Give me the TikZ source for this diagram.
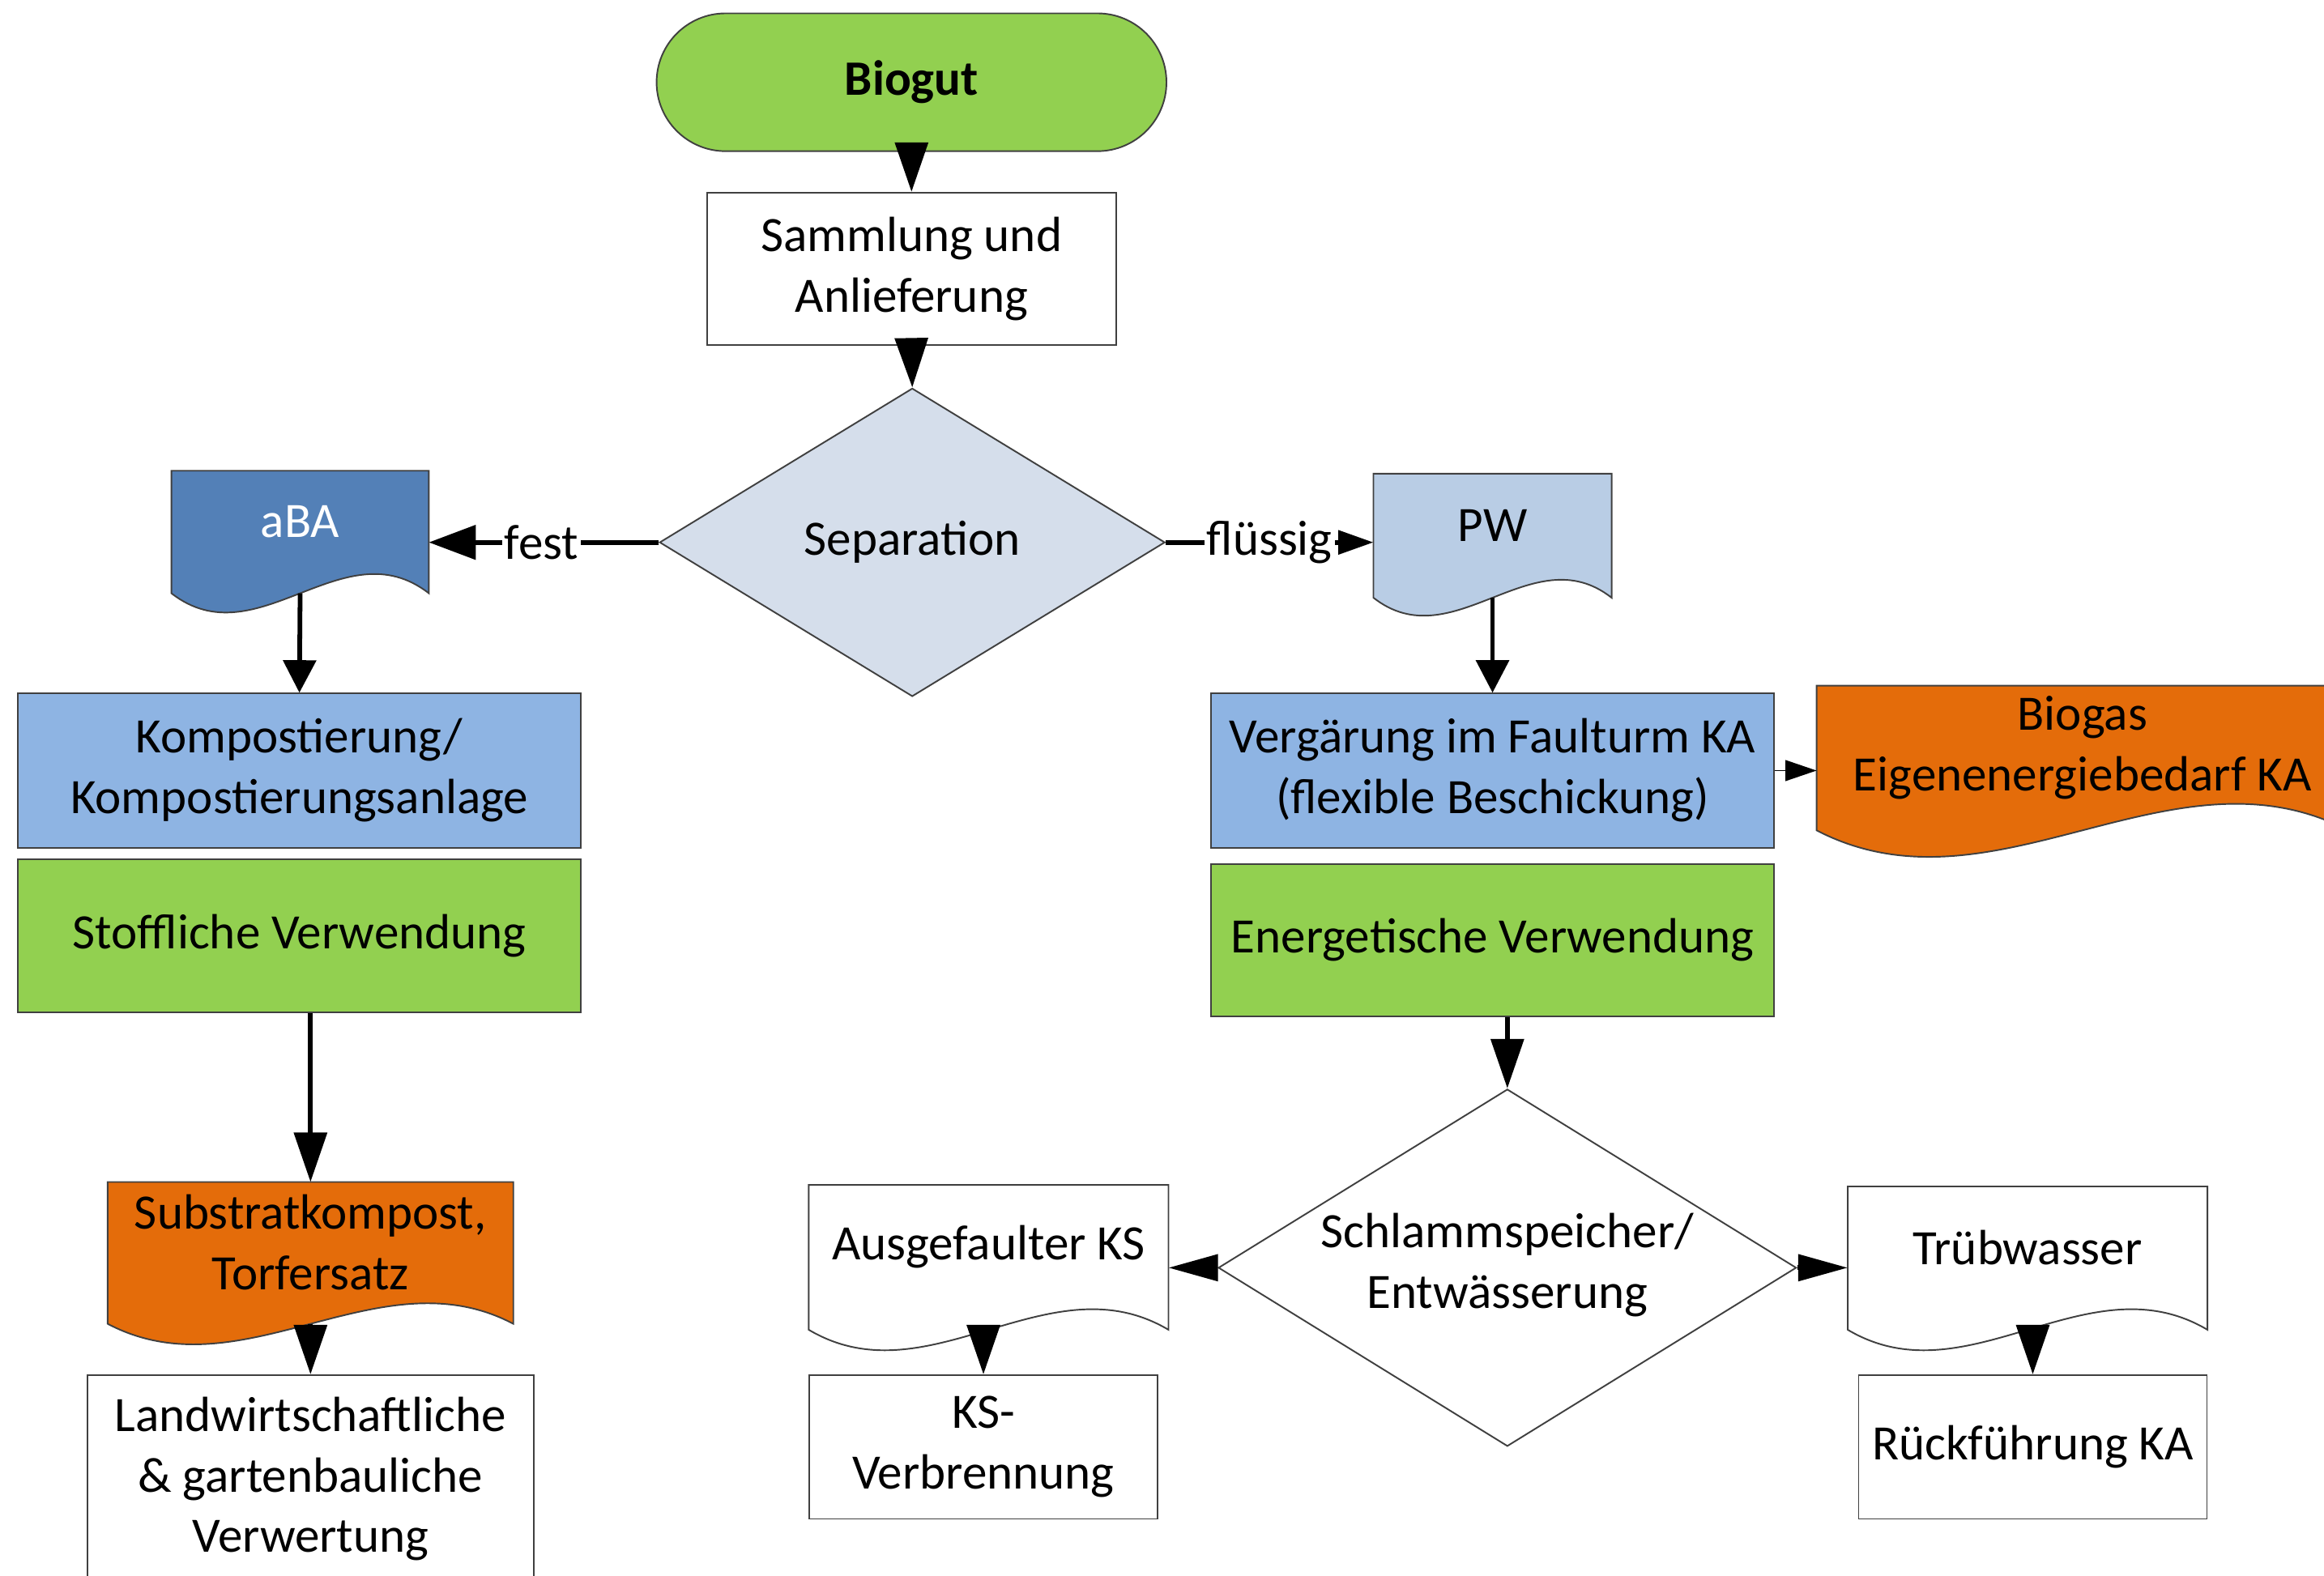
\documentclass[tikz,border=0pt]{standalone}
\usepackage{fontspec}
\setmainfont{Carlito}
\usetikzlibrary{arrows.meta,shapes.geometric,shapes.misc,calc,backgrounds}
\definecolor{gr}{HTML}{92D050}
\definecolor{bl}{HTML}{8EB4E3}
\definecolor{dbl}{HTML}{5380B7}
\definecolor{pbl}{HTML}{B9CDE5}
\definecolor{sepc}{HTML}{D5DEEB}
\definecolor{org}{HTML}{E46C0A}
\definecolor{bd}{HTML}{404040}
\newcommand\U{0.02cm}
\newcommand\fs{\fontsize{19}{23.3}\selectfont}
\tikzset{
  box/.style={draw=bd, line width=0.6pt, inner sep=0pt, align=center, font=\fs},
  docb/.style={inner sep=0pt},
  txt/.style={align=center, font=\fs, inner sep=0pt},
  dia/.style={diamond, draw=bd, line width=0.6pt, inner sep=0pt},
  bdline/.style={draw=bd, line width=0.6pt},
  heavy/.style={line width=1.8pt},
  tipbig/.style={-{Triangle[length=19pt,width=12.5pt]}},
  tipnorm/.style={-{Triangle[length=12.5pt,width=12.5pt]}},
  tipside/.style={-{Triangle[length=19pt,width=10pt]}},
  tipfl/.style={-{Triangle[length=13.5pt,width=9pt]}},
  tipfest/.style={-{Triangle[length=18pt,width=13pt]}},
  tipbg/.style={-{Triangle[length=12pt,width=8pt]}},
  lbl/.style={fill=white, font=\fs, inner sep=1pt}
}
\newcommand\docpath[3]{%
  \begin{scope}[on background layer]
  \draw[bdline, fill=#2] (#1.south west) -- (#1.north west) -- (#1.north east) -- (#1.south east)
   .. controls ($(#1.south west)!0.6667!(#1.south east)+(0,-#3)$) and ($(#1.south west)!0.3333!(#1.south east)+(0,#3)$) .. (#1.south west) -- cycle;
  \end{scope}}
\newcommand\docnode[8]{%
  \node[docb, minimum width=#3*\U, minimum height=#4*\U] (#1) at (#2) {};
  \docpath{#1}{#5}{#6}
  \node[txt, text=#8] (#1-t) at ($(#1)+(0,-7)$) {#7};
}
\begin{document}
\begin{tikzpicture}[x=0.02cm, y=-0.02cm]
\useasboundingbox (0,0) rectangle (1568,1063);

% top
\node[rounded rectangle, box, fill=gr, minimum width=344*\U, minimum height=93*\U, font=\fs\bfseries] (biogut) at (615,55.5) {Biogut};
\node[box, minimum width=276*\U, minimum height=103*\U] (samm) at (615,181.5) {Sammlung und\\Anlieferung};
\node[dia, fill=sepc, minimum width=341*\U, minimum height=208*\U] (sep) at (615.5,366) {};
\node[txt] (sep-t) at (sep) {Separation};

% left branch
\docnode{aba}{202.5,359}{173}{82}{dbl}{45}{aBA}{white}
\node[box, fill=bl, minimum width=380*\U, minimum height=104*\U] (komp) at (202,520) {Kompostierung/\\Kompostierungsanlage};
\node[box, fill=gr, minimum width=380*\U, minimum height=103*\U] (stof) at (202,631.5) {Stoffliche Verwendung};
\docnode{subs}{209.5,845.5}{273}{95}{org}{48}{Substratkompost,\\Torfersatz}{black}
\node[box, minimum width=301*\U, minimum height=140*\U] (landw) at (209.5,998) {Landwirtschaftliche\\\& gartenbauliche\\Verwertung};

% right branch
\docnode{pw}{1007,361.5}{160}{83}{pbl}{42}{PW}{black}
\node[box, fill=bl, minimum width=380*\U, minimum height=104*\U] (verg) at (1007,520) {Vergärung im Faulturm KA\\(flexible Beschickung)};
\node[box, fill=gr, minimum width=380*\U, minimum height=103*\U] (ener) at (1007,634.5) {Energetische Verwendung};
\docnode{biogas}{1405,511.5}{358}{97}{org}{62}{Biogas\\Eigenenergiebedarf KA}{black}
\node[dia, fill=white, minimum width=390*\U, minimum height=241*\U] (schl) at (1017,855.5) {};
\node[txt] (schl-t) at ($(schl)+(0,-2)$) {Schlammspeicher/\\Entwässerung};
\docnode{ausg}{667,848.5}{242}{97}{white}{48}{Ausgefaulter KS}{black}
\node[box, minimum width=235*\U, minimum height=97*\U] (ksv) at (663.5,976.5) {KS-\\Verbrennung};
\docnode{trueb}{1368,849}{242}{96}{white}{48}{Trübwasser}{black}
\node[box, minimum width=235*\U, minimum height=97*\U] (rueck) at (1371.5,976.5) {Rückführung KA};

% connectors
\draw[heavy, tipbig] (biogut.south) -- (samm.north);
\draw[heavy, tipbig] (samm.south) -- (sep.north);
\draw[heavy, tipfest] (sep.west) -- node[lbl, pos=0.51] (fest) {fest} (aba.east |- sep.west);
\draw[heavy, tipfl] (sep.east) -- node[lbl, pos=0.5] (fluessig) {flüssig} (pw.west |- sep.east);
\draw[heavy, tipnorm] (aba.south) -- (komp.north);
\draw[heavy, tipbig] (subs.north |- stof.south) -- (subs.north);
\draw[heavy, tipbig] (subs.south) -- (landw.north);
\draw[heavy, tipnorm] (pw.south) -- (verg.north);
\draw[line width=0.6pt, tipbg] (verg.east |- 0,520) -- (biogas.west |- 0,520);
\draw[heavy, tipbig] (schl.north |- ener.south) -- (schl.north);
\draw[heavy, tipside] (schl.west) -- (ausg.east |- schl.west);
\draw[heavy, tipside] (schl.east) -- (trueb.west |- schl.east);
\draw[heavy, tipbig] (ksv.north |- ausg.south) -- (ksv.north);
\draw[heavy, tipbig] (rueck.north |- trueb.south) -- (rueck.north);
\end{tikzpicture}
\end{document}
